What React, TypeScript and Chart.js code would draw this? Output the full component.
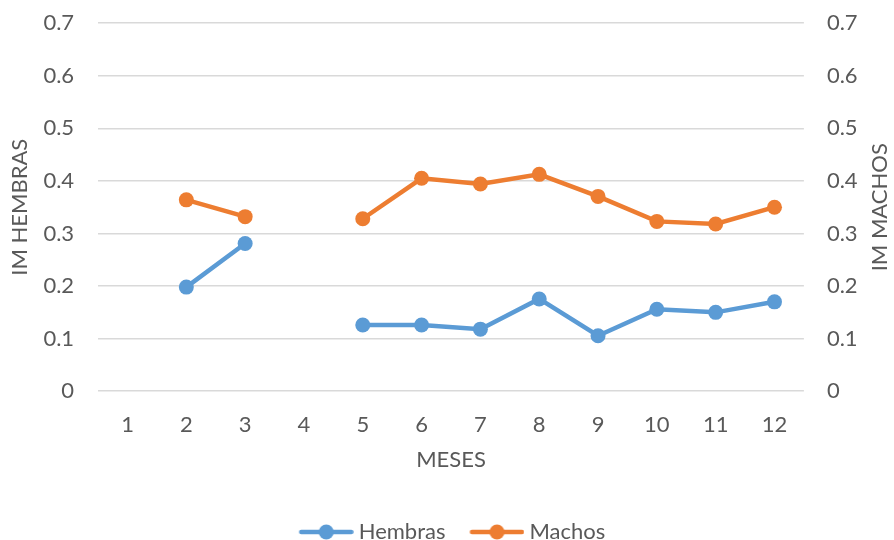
import React, { useEffect, useRef } from "react";
import { Chart, registerables } from "chart.js";

Chart.register(...registerables);

const months = ["1", "2", "3", "4", "5", "6", "7", "8", "9", "10", "11", "12"];
const hembras = [null, 0.198, 0.281, null, 0.126, 0.126, 0.118, 0.1755, 0.1055, 0.156, 0.15, 0.17];
const machos = [null, 0.364, 0.332, null, 0.328, 0.405, 0.394, 0.4125, 0.3705, 0.323, 0.318, 0.35];
const seriesNames = ["Hembras", "Machos"];
const leftTitle = "IM HEMBRAS";
const rightTitle = "IM MACHOS";
const xTitle = "MESES";

const BLUE = "#5b9bd5";
const ORANGE = "#ed7d31";
const TEXT = "#595959";
const FONT = "Lato, 'Open Sans', sans-serif";
const FS = 22;

function legendIcon(color: string): HTMLCanvasElement {
  const c = document.createElement("canvas");
  c.width = 65;
  c.height = 18;
  const ctx = c.getContext("2d")!;
  ctx.strokeStyle = color;
  ctx.lineWidth = 4.5;
  ctx.lineCap = "round";
  ctx.beginPath();
  ctx.moveTo(12.5, 9);
  ctx.lineTo(62.5, 9);
  ctx.stroke();
  ctx.fillStyle = color;
  ctx.beginPath();
  ctx.arc(37.5, 9, 7.5, 0, Math.PI * 2);
  ctx.fill();
  return c;
}

const rightTitlePlugin = {
  id: "rightTitle",
  afterDraw(chart: any) {
    const s = chart.scales.yR;
    if (!s) return;
    const ctx = chart.ctx;
    ctx.save();
    ctx.fillStyle = TEXT;
    ctx.font = `${FS}px ${FONT}`;
    ctx.textAlign = "center";
    ctx.textBaseline = "middle";
    const x = s.right - FS * 0.6;
    const y = (s.top + s.bottom) / 2;
    ctx.translate(x, y);
    ctx.rotate(-Math.PI / 2);
    ctx.fillText(rightTitle, 0, 0);
    ctx.restore();
  },
};

export default function App() {
  const ref = useRef<HTMLCanvasElement | null>(null);
  useEffect(() => {
    if (!ref.current) return;
    const icons = [legendIcon(BLUE), legendIcon(ORANGE)];
    const font = { family: FONT, size: FS };
    const tickCb = (v: any) => String(Math.round(Number(v) * 10) / 10);
    const chart = new Chart(ref.current, {
      type: "line",
      data: {
        labels: months,
        datasets: [
          {
            label: seriesNames[0],
            data: hembras,
            borderColor: BLUE,
            backgroundColor: BLUE,
            borderWidth: 4.5,
            pointRadius: 7.5,
            pointHoverRadius: 7.5,
            pointBorderWidth: 0,
            spanGaps: false,
            yAxisID: "y",
            tension: 0,
          },
          {
            label: seriesNames[1],
            data: machos,
            borderColor: ORANGE,
            backgroundColor: ORANGE,
            borderWidth: 4.5,
            pointRadius: 7.5,
            pointHoverRadius: 7.5,
            pointBorderWidth: 0,
            spanGaps: false,
            yAxisID: "yR",
            tension: 0,
          },
        ],
      },
      options: {
        responsive: false,
        animation: false,
        layout: { padding: { top: 0, left: 7, right: 1, bottom: -13 } },
        font,
        color: TEXT,
        plugins: {
          tooltip: { enabled: false },
          legend: {
            position: "bottom",
            labels: {
              usePointStyle: true,
              pointStyleWidth: 53,
              color: TEXT,
              font,
              padding: 20,
              generateLabels: (chart: any) =>
                chart.data.datasets.map((d: any, i: number) => ({
                  text: d.label,
                  pointStyle: icons[i],
                  fillStyle: d.borderColor,
                  strokeStyle: d.borderColor,
                  fontColor: TEXT,
                  lineWidth: 0,
                  hidden: false,
                  datasetIndex: i,
                })),
            },
          },
        },
        scales: {
          x: {
            type: "category",
            offset: true,
            grid: { display: false, drawTicks: false },
            border: { display: false },
            ticks: { color: TEXT, font, padding: 21 },
            title: {
              display: true,
              text: xTitle,
              color: TEXT,
              font,
              padding: { top: -13, bottom: 28 },
            },
          },
          y: {
            position: "left",
            min: 0,
            max: 0.7,
            ticks: { stepSize: 0.1, color: TEXT, font, padding: 10, callback: tickCb },
            grid: {
              color: "#d9d9d9",
              lineWidth: 1.5,
              drawTicks: true,
              tickLength: 14,
              tickColor: "rgba(0,0,0,0)",
            },
            border: { display: false },
            title: {
              display: true,
              text: leftTitle,
              color: TEXT,
              font,
              padding: { top: 0, bottom: 0 },
            },
          },
          yR: {
            position: "right",
            min: 0,
            max: 0.7,
            ticks: { stepSize: 0.1, color: TEXT, font, padding: 10, callback: tickCb },
            grid: {
              color: "rgba(0,0,0,0)",
              drawOnChartArea: false,
              drawTicks: true,
              tickLength: 13,
              tickColor: "rgba(0,0,0,0)",
            },
            border: { display: false },
            title: {
              display: true,
              text: rightTitle,
              color: "rgba(0,0,0,0)",
              font,
              padding: { top: 0, bottom: -1 },
            },
          },
        },
      },
      plugins: [rightTitlePlugin],
    } as any);
    return () => chart.destroy();
  }, []);
  return (
    <div style={{ position: "fixed", left: 0, top: 0, width: 894, height: 540, background: "#fff" }}>
      <canvas ref={ref} width={894} height={540} style={{ width: 894, height: 540 }} />
    </div>
  );
}
